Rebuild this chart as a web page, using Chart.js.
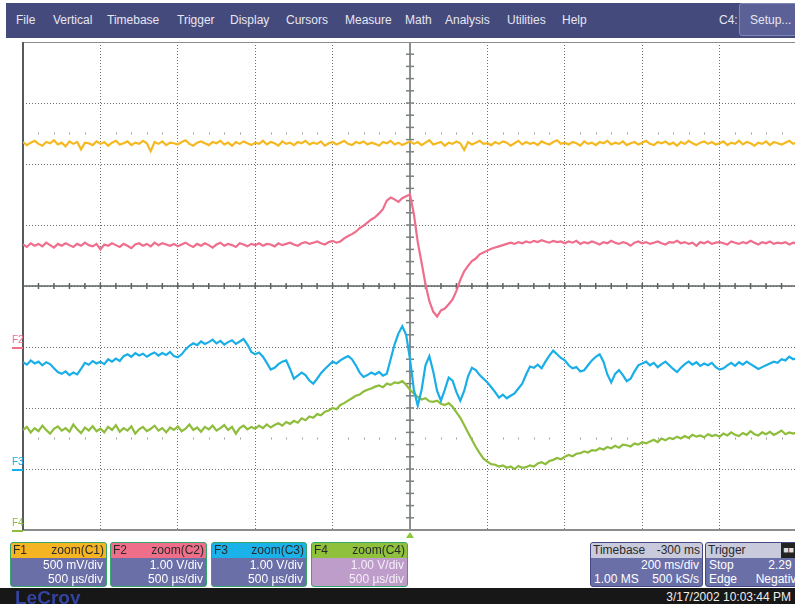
<!DOCTYPE html>
<html>
<head>
<meta charset="utf-8">
<script src="https://cdn.jsdelivr.net/npm/chart.js@4.4.1/dist/chart.umd.min.js"></script>
<style>
    body { margin: 0; width: 795px; height: 604px; overflow: hidden; position: relative; background: #fff; font-family: "Liberation Sans", Arial, sans-serif; }
    #scope { position: absolute; left: 0; top: 0; }
    .menu { position: absolute; left: 6px; top: 3px; width: 789px; height: 35px; background: #454a7c; }
    .menu span { position: absolute; top: 10px; font-size: 12px; color: #e6e7f2; }
    .setup { position: absolute; left: 733px; top: 0; width: 60px; height: 31px; background: #5b6096; border: 1px solid #8186b8; border-radius: 3px; }
    .marca { position: absolute; left: 12px; font-size: 10px; line-height: 10px; border-bottom: 2px solid; width: 11px; padding-bottom: 2px; }
    .panel { position: absolute; top: 542px; height: 45px; box-sizing: border-box; border: 1.5px solid #33a86a; border-radius: 3px; background: #6b6fa8; color: #fff; font-size: 12px; overflow: hidden; }
    .panel .hd { height: 15px; line-height: 15px; color: #2a2a2a; padding: 0 2px; display: flex; justify-content: space-between; }
    .panel .ln { height: 14px; line-height: 14px; padding: 0 3px; display: flex; justify-content: space-between; }
    .panel .der { justify-content: flex-end; }
    .tb { border-color: #444985; }
    .tb .hd { background: #c9cadb; }
    .status { position: absolute; left: 0; top: 588px; width: 795px; height: 16px; background: #171717; overflow: hidden; }
    .logo { position: absolute; left: 15px; top: -1px; font-size: 19px; font-weight: bold; color: #3343a0; }
    .fecha { position: absolute; right: 4px; top: 2px; font-size: 12px; color: #eee; }
</style>
</head>
<body>
<canvas id="scope" width="800" height="540"></canvas>

<div class="menu">
    <span style="left:10px">File</span>
    <span style="left:47px">Vertical</span>
    <span style="left:101px">Timebase</span>
    <span style="left:171px">Trigger</span>
    <span style="left:224px">Display</span>
    <span style="left:280px">Cursors</span>
    <span style="left:339px">Measure</span>
    <span style="left:399px">Math</span>
    <span style="left:439px">Analysis</span>
    <span style="left:501px">Utilities</span>
    <span style="left:556px">Help</span>
    <span style="left:713px">C4:</span>
    <div class="setup"><span style="left:10px;top:9px">Setup...</span></div>
</div>

<div class="marca" style="top:335px;color:#ee6e8c;border-color:#ee6e8c">F2</div>
<div class="marca" style="top:457px;color:#1aaee8;border-color:#1aaee8">F3</div>
<div class="marca" style="top:518px;color:#8dbd3a;border-color:#8dbd3a">F4</div>

<div class="panel" style="left:10px;width:97px">
    <div class="hd" style="background:#f5b523"><span>F1</span><span>zoom(C1)</span></div>
    <div class="ln der">500 mV/div</div>
    <div class="ln der">500 µs/div</div>
</div>
<div class="panel" style="left:110px;width:97px">
    <div class="hd" style="background:#ef6f8b"><span>F2</span><span>zoom(C2)</span></div>
    <div class="ln der">1.00 V/div</div>
    <div class="ln der">500 µs/div</div>
</div>
<div class="panel" style="left:211px;width:96px">
    <div class="hd" style="background:#1ab2e8"><span>F3</span><span>zoom(C3)</span></div>
    <div class="ln der">1.00 V/div</div>
    <div class="ln der">500 µs/div</div>
</div>
<div class="panel" style="left:311px;width:97px;background:#bf9dcb;color:#f4eef8">
    <div class="hd" style="background:#8fc13c"><span>F4</span><span>zoom(C4)</span></div>
    <div class="ln der">1.00 V/div</div>
    <div class="ln der">500 µs/div</div>
</div>
<div class="panel tb" style="left:590px;width:113px">
    <div class="hd"><span>Timebase</span><span>-300 ms</span></div>
    <div class="ln der">200 ms/div</div>
    <div class="ln"><span>1.00 MS</span><span>500 kS/s</span></div>
</div>
<div class="panel tb" style="left:705px;width:102px">
    <div class="hd"><span>Trigger</span><span style="background:#222;color:#ddd;font-size:9px;padding:0 2px;margin-right:8px">■■</span></div>
    <div class="ln"><span>Stop</span><span>2.29 V</span></div>
    <div class="ln"><span>Edge</span><span>Negative</span></div>
</div>

<div class="status">
    <span class="logo">LeCroy</span>
    <span class="fecha">3/17/2002 10:03:44 PM</span>
</div>

<script>
/* ==================
    DATOS (divisiones)
================== */

// tiempo de muestra en divisiones horizontales (0 = disparo)
const tiempoDiv = [
    -5, -4.95, -4.9, -4.85, -4.8, -4.75, -4.7, -4.65, -4.6, -4.55,
    -4.5, -4.45, -4.4, -4.35, -4.3, -4.25, -4.2, -4.15, -4.1, -4.05,
    -4, -3.95, -3.9, -3.85, -3.8, -3.75, -3.7, -3.65, -3.6, -3.55,
    -3.5, -3.45, -3.4, -3.35, -3.3, -3.25, -3.2, -3.15, -3.1, -3.05,
    -3, -2.95, -2.9, -2.85, -2.8, -2.75, -2.7, -2.65, -2.6, -2.55,
    -2.5, -2.45, -2.4, -2.35, -2.3, -2.25, -2.2, -2.15, -2.1, -2.05,
    -2, -1.95, -1.9, -1.85, -1.8, -1.75, -1.7, -1.65, -1.6, -1.55,
    -1.5, -1.45, -1.4, -1.35, -1.3, -1.25, -1.2, -1.15, -1.1, -1.05,
    -1, -0.95, -0.9, -0.85, -0.8, -0.75, -0.7, -0.65, -0.6, -0.55,
    -0.5, -0.45, -0.4, -0.35, -0.3, -0.25, -0.2, -0.15, -0.1, -0.05,
    0, 0.05, 0.1, 0.15, 0.2, 0.25, 0.3, 0.35, 0.4, 0.45,
    0.5, 0.55, 0.6, 0.65, 0.7, 0.75, 0.8, 0.85, 0.9, 0.95,
    1, 1.05, 1.1, 1.15, 1.2, 1.25, 1.3, 1.35, 1.4, 1.45,
    1.5, 1.55, 1.6, 1.65, 1.7, 1.75, 1.8, 1.85, 1.9, 1.95,
    2, 2.05, 2.1, 2.15, 2.2, 2.25, 2.3, 2.35, 2.4, 2.45,
    2.5, 2.55, 2.6, 2.65, 2.7, 2.75, 2.8, 2.85, 2.9, 2.95,
    3, 3.05, 3.1, 3.15, 3.2, 3.25, 3.3, 3.35, 3.4, 3.45,
    3.5, 3.55, 3.6, 3.65, 3.7, 3.75, 3.8, 3.85, 3.9, 3.95,
    4, 4.05, 4.1, 4.15, 4.2, 4.25, 4.3, 4.35, 4.4, 4.45,
    4.5, 4.55, 4.6, 4.65, 4.7, 4.75, 4.8, 4.85, 4.9, 4.95,
    5
];

const trazaF1 = [
    2.36,2.31,2.35,2.38,2.33,2.30,2.36,2.34,2.39,2.32,2.35,2.29,2.37,2.33,2.36,2.24,2.35,2.34,2.31,2.37,
    2.33,2.36,2.30,2.35,2.38,2.32,2.34,2.37,2.31,2.35,2.33,2.38,2.34,2.21,2.36,2.33,2.37,2.31,2.35,2.34,
    2.32,2.36,2.39,2.33,2.30,2.35,2.37,2.34,2.31,2.36,2.34,2.38,2.32,2.35,2.30,2.36,2.33,2.37,2.34,2.31,
    2.35,2.33,2.38,2.32,2.36,2.34,2.30,2.37,2.33,2.35,2.31,2.36,2.34,2.38,2.32,2.35,2.33,2.37,2.30,2.34,
    2.36,2.32,2.35,2.38,2.33,2.31,2.36,2.34,2.37,2.32,2.35,2.33,2.30,2.36,2.34,2.38,2.32,2.35,2.31,2.34,
    2.37,2.33,2.36,2.31,2.35,2.39,2.32,2.34,2.36,2.30,2.35,2.33,2.37,2.34,2.23,2.36,2.32,2.35,2.38,2.33,
    2.34,2.31,2.36,2.33,2.37,2.35,2.30,2.34,2.38,2.32,2.36,2.33,2.35,2.31,2.37,2.34,2.32,2.36,2.39,2.33,
    2.35,2.32,2.36,2.34,2.30,2.37,2.33,2.35,2.31,2.36,2.34,2.38,2.32,2.35,2.33,2.37,2.31,2.34,2.36,2.32,
    2.35,2.38,2.33,2.31,2.36,2.34,2.37,2.32,2.35,2.30,2.36,2.33,2.38,2.34,2.31,2.35,2.37,2.33,2.36,2.32,
    2.34,2.37,2.31,2.35,2.33,2.38,2.32,2.36,2.34,2.30,2.35,2.33,2.37,2.31,2.36,2.34,2.32,2.35,2.38,2.33,
    2.35
];

const trazaF2 = [
    0.68,0.64,0.70,0.66,0.69,0.65,0.71,0.67,0.63,0.69,0.66,0.70,0.67,0.64,0.69,0.66,0.71,0.67,0.65,0.69,
    0.60,0.68,0.66,0.70,0.67,0.64,0.69,0.66,0.62,0.68,0.70,0.66,0.69,0.65,0.71,0.67,0.70,0.68,0.66,0.69,
    0.65,0.68,0.71,0.67,0.64,0.69,0.66,0.70,0.67,0.63,0.68,0.71,0.66,0.69,0.67,0.64,0.70,0.68,0.65,0.69,
    0.67,0.70,0.66,0.69,0.68,0.65,0.70,0.67,0.69,0.71,0.68,0.66,0.70,0.72,0.69,0.71,0.73,0.70,0.68,0.72,
    0.74,0.71,0.73,0.78,0.82,0.85,0.89,0.95,0.99,1.04,1.09,1.13,1.19,1.26,1.40,1.45,1.42,1.38,1.44,1.47,
    1.50,1.18,0.72,0.38,0.03,-0.25,-0.42,-0.50,-0.40,-0.37,-0.30,-0.22,-0.08,0.10,0.24,0.33,0.41,0.45,0.52,0.55,
    0.58,0.61,0.63,0.65,0.67,0.69,0.71,0.69,0.72,0.70,0.73,0.71,0.74,0.72,0.75,0.73,0.71,0.74,0.72,0.73,
    0.70,0.73,0.71,0.74,0.69,0.72,0.70,0.73,0.71,0.68,0.72,0.70,0.74,0.71,0.69,0.72,0.70,0.66,0.71,0.73,
    0.70,0.72,0.69,0.71,0.73,0.70,0.68,0.72,0.71,0.74,0.70,0.72,0.69,0.71,0.66,0.72,0.70,0.73,0.69,0.71,
    0.72,0.70,0.68,0.73,0.71,0.69,0.72,0.70,0.74,0.71,0.68,0.72,0.70,0.73,0.69,0.71,0.70,0.72,0.68,0.71,
    0.70
];

const trazaF3 = [
    -1.25,-1.29,-1.22,-1.27,-1.24,-1.30,-1.25,-1.28,-1.35,-1.41,-1.44,-1.40,-1.46,-1.42,-1.45,-1.36,-1.26,-1.29,-1.23,-1.27,
    -1.24,-1.28,-1.20,-1.24,-1.19,-1.23,-1.15,-1.12,-1.16,-1.10,-1.14,-1.11,-1.16,-1.12,-1.09,-1.14,-1.10,-1.13,-1.08,-1.15,
    -1.17,-1.12,-1.04,-0.98,-0.94,-0.97,-0.91,-0.95,-0.92,-0.88,-0.94,-0.90,-0.96,-0.92,-0.89,-0.95,-0.91,-0.87,-0.96,-1.08,
    -1.12,-1.09,-1.16,-1.26,-1.37,-1.34,-1.28,-1.24,-1.22,-1.36,-1.52,-1.47,-1.42,-1.46,-1.55,-1.60,-1.52,-1.43,-1.36,-1.30,
    -1.24,-1.27,-1.22,-1.18,-1.15,-1.20,-1.30,-1.42,-1.49,-1.46,-1.42,-1.45,-1.41,-1.47,-1.44,-1.20,-0.96,-0.78,-0.66,-0.80,
    -1.20,-1.70,-1.96,-1.70,-1.30,-1.15,-1.40,-1.72,-1.88,-1.70,-1.50,-1.55,-1.74,-1.88,-1.72,-1.48,-1.34,-1.38,-1.46,-1.52,
    -1.58,-1.66,-1.74,-1.83,-1.78,-1.84,-1.80,-1.76,-1.68,-1.60,-1.45,-1.32,-1.34,-1.29,-1.35,-1.24,-1.14,-1.06,-1.12,-1.18,
    -1.22,-1.30,-1.35,-1.33,-1.40,-1.38,-1.30,-1.22,-1.16,-1.12,-1.24,-1.45,-1.58,-1.44,-1.38,-1.46,-1.56,-1.52,-1.40,-1.30,
    -1.27,-1.24,-1.30,-1.26,-1.33,-1.28,-1.24,-1.30,-1.36,-1.41,-1.34,-1.28,-1.24,-1.29,-1.25,-1.31,-1.27,-1.30,-1.26,-1.33,
    -1.37,-1.35,-1.30,-1.26,-1.31,-1.25,-1.29,-1.24,-1.28,-1.32,-1.36,-1.33,-1.30,-1.27,-1.24,-1.26,-1.20,-1.22,-1.16,-1.20,
    -1.18
];

const trazaF4 = [
    -2.36,-2.31,-2.40,-2.33,-2.38,-2.29,-2.36,-2.42,-2.34,-2.30,-2.37,-2.33,-2.39,-2.27,-2.35,-2.41,-2.32,-2.37,-2.30,-2.38,
    -2.34,-2.40,-2.31,-2.36,-2.28,-2.39,-2.33,-2.37,-2.30,-2.42,-2.35,-2.31,-2.38,-2.34,-2.29,-2.37,-2.33,-2.40,-2.32,-2.36,
    -2.30,-2.38,-2.34,-2.27,-2.36,-2.32,-2.39,-2.31,-2.35,-2.29,-2.37,-2.33,-2.28,-2.36,-2.31,-2.42,-2.33,-2.29,-2.35,-2.31,
    -2.34,-2.29,-2.33,-2.27,-2.32,-2.28,-2.25,-2.29,-2.23,-2.26,-2.21,-2.24,-2.17,-2.20,-2.14,-2.16,-2.10,-2.12,-2.06,-2.04,
    -2.00,-2.02,-1.95,-1.92,-1.88,-1.84,-1.80,-1.78,-1.73,-1.70,-1.68,-1.65,-1.63,-1.66,-1.60,-1.62,-1.58,-1.59,-1.56,-1.62,
    -1.70,-1.76,-1.82,-1.86,-1.84,-1.89,-1.90,-1.88,-1.93,-1.95,-1.92,-1.98,-2.07,-2.16,-2.28,-2.40,-2.52,-2.64,-2.74,-2.83,
    -2.88,-2.92,-2.93,-2.96,-2.94,-2.98,-2.96,-3.00,-2.95,-2.98,-2.97,-2.94,-2.96,-2.91,-2.89,-2.92,-2.87,-2.85,-2.82,-2.84,
    -2.80,-2.77,-2.79,-2.75,-2.74,-2.71,-2.73,-2.69,-2.70,-2.66,-2.68,-2.64,-2.66,-2.62,-2.65,-2.60,-2.61,-2.63,-2.58,-2.60,
    -2.56,-2.58,-2.55,-2.52,-2.56,-2.50,-2.53,-2.49,-2.51,-2.47,-2.50,-2.46,-2.49,-2.44,-2.47,-2.45,-2.48,-2.43,-2.46,-2.44,
    -2.47,-2.42,-2.45,-2.40,-2.44,-2.46,-2.41,-2.44,-2.38,-2.43,-2.45,-2.40,-2.43,-2.39,-2.44,-2.41,-2.37,-2.43,-2.40,-2.42,
    -2.40
];

const nombresTrazas = ["F1", "F2", "F3", "F4"];
const coloresTrazas = ["#f5b820", "#ee6e8c", "#1aaee8", "#8dbd3a"];

/* ==================
    RETICULA DEL OSCILOSCOPIO
================== */

function linea(ctx, x1, y1, x2, y2) {
    ctx.beginPath();
    ctx.moveTo(x1, y1);
    ctx.lineTo(x2, y2);
    ctx.stroke();
}

const reticula = {
    id: "reticula",
    beforeDatasetsDraw(chart) {
        const { ctx, chartArea: a, scales: { x, y } } = chart;
        const x0 = x.getPixelForValue(0);
        const y0 = y.getPixelForValue(0);
        ctx.save();

        // filas de marcas pequeñas a +-2.5 div
        ctx.strokeStyle = "#a0a0a0";
        ctx.lineWidth = 1;
        [2.5, -2.5].forEach((v) => {
            const py = y.getPixelForValue(v);
            for (let k = -24; k <= 24; k++) {
                if (k % 5 === 0) continue;
                const px = Math.round(x.getPixelForValue(k / 5)) + 0.5;
                linea(ctx, px, py - 1, px, py + 1);
            }
        });

        // cruz central
        ctx.strokeStyle = "#8a9090";
        ctx.lineWidth = 2;
        linea(ctx, x0, a.top, x0, a.bottom);
        ctx.strokeStyle = "#5c6262";
        ctx.lineWidth = 1.5;
        linea(ctx, a.left, y0, a.right, y0);

        ctx.lineWidth = 1.5;
        for (let k = -24; k <= 24; k++) {
            const px = x.getPixelForValue(k / 5);
            linea(ctx, px, y0 - 3, px, y0 + 3);
        }
        ctx.strokeStyle = "#7a8080";
        for (let k = -19; k <= 19; k++) {
            const py = y.getPixelForValue(k / 5);
            linea(ctx, x0 - 4, py, x0 + 4, py);
        }

        // marco
        ctx.strokeStyle = "#8c8c8c";
        ctx.lineWidth = 1;
        linea(ctx, a.left, a.top + 0.5, a.right, a.top + 0.5);
        ctx.lineWidth = 2;
        linea(ctx, a.left, a.bottom, a.right, a.bottom);
        ctx.strokeStyle = "#555b5b";
        linea(ctx, a.left, a.top, a.left, a.bottom);
        ctx.restore();
    },
    afterDraw(chart) {
        const { ctx, chartArea: a, scales: { x } } = chart;
        const x0 = x.getPixelForValue(0);
        ctx.save();
        ctx.fillStyle = "#8dc63f";
        ctx.beginPath();
        ctx.moveTo(x0, a.bottom + 2);
        ctx.lineTo(x0 - 4, a.bottom + 8);
        ctx.lineTo(x0 + 4, a.bottom + 8);
        ctx.closePath();
        ctx.fill();
        ctx.restore();
    },
};

function crearTraza(indice, valores) {
    return {
        label: nombresTrazas[indice],
        data: tiempoDiv.map((t, i) => ({ x: t, y: valores[i] })),
        borderColor: coloresTrazas[indice],
        borderWidth: 2.2,
        pointRadius: 0,
        tension: 0,
        fill: false,
    };
}

function renderizarOsciloscopio() {
    const canvas = document.getElementById("scope");
    if (!canvas || typeof Chart === "undefined") {
        return;
    }

    new Chart(canvas.getContext("2d"), {
        type: "line",
        data: {
            datasets: [
                crearTraza(0, trazaF1),
                crearTraza(1, trazaF2),
                crearTraza(2, trazaF3),
                crearTraza(3, trazaF4),
            ],
        },
        options: {
            responsive: false,
            animation: false,
            devicePixelRatio: 1,
            events: [],
            layout: { padding: { left: 23, top: 42, right: 3, bottom: 10 } },
            plugins: {
                legend: { display: false },
                tooltip: { enabled: false },
            },
            scales: {
                x: {
                    type: "linear",
                    min: -5,
                    max: 5,
                    ticks: { display: false, stepSize: 1 },
                    grid: { color: "#6f6f6f", lineWidth: 1, drawTicks: false },
                    border: { display: false, dash: [1, 2] },
                },
                y: {
                    type: "linear",
                    min: -4,
                    max: 4,
                    ticks: { display: false, stepSize: 1 },
                    grid: { color: "#6f6f6f", lineWidth: 1, drawTicks: false },
                    border: { display: false, dash: [1, 2] },
                },
            },
        },
        plugins: [reticula],
    });
}

renderizarOsciloscopio();
</script>
</body>
</html>
